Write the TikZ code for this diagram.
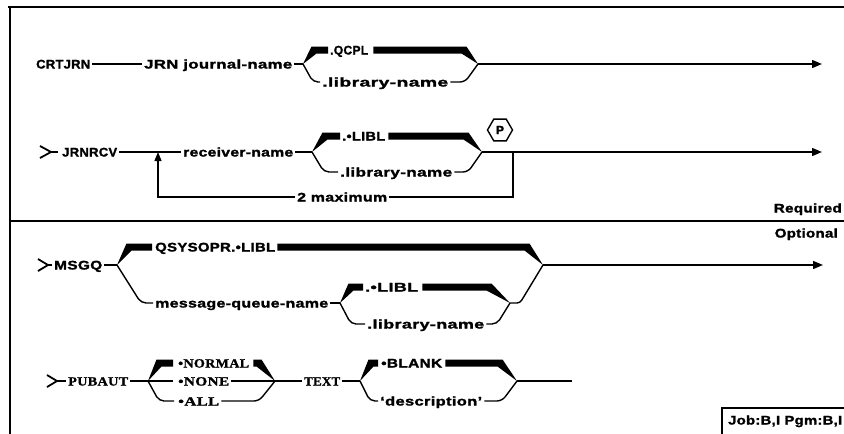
\documentclass[tikz,border=0pt]{standalone}
\usepackage{fontspec}
\usepackage{graphicx}
\usetikzlibrary{arrows.meta,calc,shapes.geometric}
\newfontfamily\sfb[LetterSpace=2,BoldFeatures={FakeBold=1.5}]{Liberation Sans}
\newfontfamily\rmb[LetterSpace=2,BoldFeatures={FakeBold=1.2}]{Liberation Serif}
\newcommand\fw[2]{\resizebox{#1pt}{\height}{#2}}
% thick opening wedge: branch, stub end, k
\newcommand\wopen[3]{\fill let \p1=(#1), \p2=(#2) in (\p1) -- (\x1+#3pt-3.5pt,\y2+3.5pt) -- (\x2,\y2+3.5pt) -- (\x2,\y2-3.5pt) -- (\x1+#3pt+1.5pt,\y2-3.5pt) -- cycle;}
% thick closing wedge: bar start, merge, k
\newcommand\wclose[3]{\fill let \p1=(#1), \p2=(#2) in (\x1,\y1+3.5pt) -- (\x2-#3pt+1.5pt,\y1+3.5pt) -- (\p2) -- (\x2-#3pt-3.5pt,\y1-3.5pt) -- (\x1,\y1-3.5pt) -- cycle;}
% thin opening / closing branch
\newcommand\lopen[3]{\draw[thn,rounded corners=5pt] let \p1=(#1), \p2=(#2) in (\p1) -- (\x1+#3pt,\y2) -- (\p2);}
\newcommand\lclose[3]{\draw[thn,rounded corners=5pt] let \p1=(#1), \p2=(#2) in (\p1) -- (\x2-#3pt,\y1) -- (\p2);}
\tikzset{
  thn/.style={line width=1.4pt},
  frm/.style={line width=1.8pt},
  arr/.style={-{Triangle[length=10pt,width=8pt]}},
  arrup/.style={-{Triangle[length=9pt,width=7pt]}},
  sl/.style={font={\sfb\bfseries\fontsize{12.5}{14}\selectfont}, inner xsep=2pt, inner ysep=0pt, anchor=base west},
  rl/.style={sl, font={\rmb\bfseries\fontsize{12.5}{14}\selectfont}},
  gt/.style={line width=1.8pt},
}
\begin{document}
\begin{tikzpicture}[x=1pt,y=-1pt]
\useasboundingbox (0,0) rectangle (844,434);
% frame
\draw[frm] (8,7) -- (844,7);
\draw[frm] (10,7) -- (10,434);
\draw[frm] (10,221) -- (844,221);

% ---------------- Row 1 ----------------
\coordinate (b1) at (303,64);
\coordinate (m1) at (478,64);
\coordinate (e1) at (822,64);
\coordinate (u1) at (0,50);
\coordinate (l1) at (0,82);
\node[sl] (crtjrn) at (34,68.5) {\fw{54}{CRTJRN}};
\node[sl] (jrn) at (142,68.5) {\fw{148}{JRN journal-name}};
\node[sl] (qcpl) at (328,54.5) {\fw{38}{.QCPL}};
\node[sl] (lib1) at (320,86.5) {\fw{126}{.library-name}};
\draw[thn] (crtjrn.east|-b1) -- (jrn.west|-b1);
\draw[thn] (jrn.east|-b1) -- (b1);
\wopen{b1}{qcpl.west|-u1}{12}
\wclose{$(qcpl.east|-u1)+(3,0)$}{m1}{13}
\lopen{b1}{lib1.west|-l1}{10}
\lclose{lib1.east|-l1}{m1}{13}
\draw[thn,arr] (m1) -- (e1);

% ---------------- Row 2 ----------------
\coordinate (b2) at (312,152);
\coordinate (m2) at (482,152);
\coordinate (e2) at (822,152);
\coordinate (u2) at (0,136);
\coordinate (l2) at (0,172);
\coordinate (g2) at (51,152);
\coordinate (lr) at (513,152);
\coordinate (lb) at (513,197);
\coordinate (ll) at (158,197);
\coordinate (la) at (158,152);
\draw[gt] (40,146) -- (g2) -- (40,158);
\node[sl] (jrnrcv) at (60,156.5) {\fw{55}{JRNRCV}};
\node[sl] (recv) at (181,156.5) {\fw{110}{receiver-name}};
\node[sl] (libl2) at (340,140.5) {\fw{43}{.•LIBL}};
\node[sl] (lib2) at (338,176.5) {\fw{112}{.library-name}};
\node[sl] (max2) at (295,201.5) {\fw{90}{2 maximum}};
\node[draw,thn,regular polygon,regular polygon sides=6,minimum size=25pt,inner sep=0pt,
      font={\sfb\bfseries\fontsize{12}{13}\selectfont}] (p) at (500,130) {P};
\draw[gt] (g2) -- ++(7,0);
\draw[thn] (jrnrcv.east|-b2) -- (recv.west|-b2);
\draw[thn] (recv.east|-b2) -- (b2);
\wopen{b2}{libl2.west|-u2}{14}
\wclose{$(libl2.east|-u2)+(1,0)$}{m2}{15}
\lopen{b2}{lib2.west|-l2}{12}
\lclose{lib2.east|-l2}{m2}{14}
\draw[thn,arr] (m2) -- (e2);
\draw[thn] (lr) -- (lb) -- (max2.east|-lb);
\draw[thn,arrup] (max2.west|-lb) -- (ll) -- (la);

% divider texts
\node[sl,anchor=base east] (req) at (844,212.5) {\fw{68}{Required}};
\node[sl,anchor=base east] (opt) at (840,237.5) {\fw{63}{Optional}};

% ---------------- Row 3 ----------------
\coordinate (b3) at (117,265);
\coordinate (m3) at (543,265);
\coordinate (e3) at (823,265);
\coordinate (u3) at (0,247);
\coordinate (l3) at (0,303);
\coordinate (b3i) at (340,303);
\coordinate (m3i) at (510,303);
\coordinate (u3i) at (0,287);
\coordinate (l3i) at (0,324);
\coordinate (g3) at (48,265);
\draw[gt] (38,259) -- (g3) -- (38,271);
\node[sl] (msgq) at (52,269.5) {\fw{48}{MSGQ}};
\node[sl] (qsys) at (153,251.5) {\fw{120}{QSYSOPR.•LIBL}};
\node[sl] (mqn) at (153,307.5) {\fw{173}{message-queue-name}};
\node[sl] (ilibl) at (363,291.5) {\fw{53}{.•LIBL}};
\node[sl] (ilib) at (365,328.5) {\fw{117}{.library-name}};
\draw[gt] (g3) -- (msgq.west|-g3);
\draw[thn] (msgq.east|-b3) -- (b3);
\wopen{b3}{$(qsys.west|-u3)+(-1,0)$}{13}
\wclose{qsys.east|-u3}{m3}{15}
\lopen{b3}{mqn.west|-l3}{24}
\draw[thn] (mqn.east|-l3) -- (b3i);
\wopen{b3i}{ilibl.west|-u3i}{12}
\wclose{$(ilibl.east|-u3i)+(2,0)$}{m3i}{20}
\lopen{b3i}{ilib.west|-l3i}{11}
\lclose{ilib.east|-l3i}{m3i}{13}
\draw[thn,rounded corners=3pt] (m3i) -- ++(10,0) -- (m3);
\draw[thn,arr] (m3) -- (e3);

% ---------------- Row 4 ----------------
\coordinate (b4) at (148,381);
\coordinate (m4) at (275,381);
\coordinate (b5) at (360,381);
\coordinate (m5) at (517,381);
\coordinate (e5) at (572,381);
\coordinate (u4) at (0,363);
\coordinate (l4) at (0,401);
\coordinate (g4) at (57,381);
\draw[gt] (47,375) -- (g4) -- (47,387);
\node[rl] (pubaut) at (66,385.5) {\fw{60}{PUBAUT}};
\node[rl] (normal) at (176,367.5) {\fw{71}{•NORMAL}};
\node[rl] (none) at (176,385.5) {\fw{51}{•NONE}};
\node[rl] (all) at (176,405.5) {\fw{41}{•ALL}};
\node[rl] (text) at (302,385.5) {\fw{36}{TEXT}};
\node[sl] (blank) at (379,367.5) {\fw{61}{•BLANK}};
\node[sl] (desc) at (378,405.5) {\fw{102}{‘description’}};
\draw[gt] (g4) -- (pubaut.west|-g4);
\draw[thn] (pubaut.east|-b4) -- (b4);
\wopen{b4}{$(normal.west|-u4)+(-3,0)$}{12}
\wclose{$(normal.east|-u4)+(2,0)$}{m4}{15}
\draw[thn] (b4) -- ($(none.west|-b4)+(-3,0)$);
\draw[thn] (none.east|-b4) -- (m4);
\lopen{b4}{$(all.west|-l4)+(-2,0)$}{11}
\lclose{all.east|-l4}{m4}{16}
\draw[thn] (m4) -- (text.west|-b4);
\draw[thn] (text.east|-b4) -- (b5);
\wopen{b5}{$(blank.west|-u4)+(-1,0)$}{12}
\wclose{$(blank.east|-u4)+(1,0)$}{m5}{16}
\lopen{b5}{desc.west|-l4}{10}
\lclose{desc.east|-l4}{m5}{15}
\draw[thn] (m5) -- (e5);

% job box
\coordinate (jb) at (722,408);
\draw[thn] (722,434) -- (jb) -- (844,408);
\node[sl] (job) at (726,424.5) {\fw{114}{Job:B,I  Pgm:B,I}};
\end{tikzpicture}
\end{document}
